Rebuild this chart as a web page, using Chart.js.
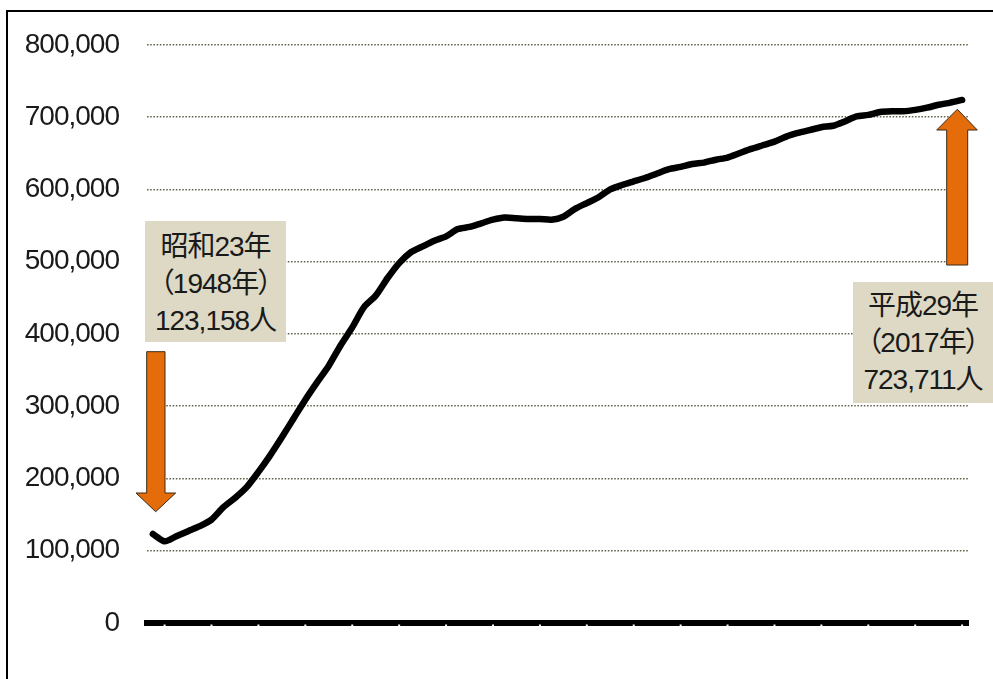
<!DOCTYPE html>
<html>
<head>
<meta charset="utf-8">
<script src="https://cdn.jsdelivr.net/npm/chart.js@4.4.1/dist/chart.umd.min.js"></script>
<style>
  html, body { margin: 0; padding: 0; background: #fff; overflow: hidden; }
  #wrap { position: relative; width: 993px; height: 679px; }
  #frame { position: absolute; left: 6px; top: 10px; width: 1100px; height: 800px;
           border-left: 2.5px solid #000; border-top: 2px solid #000; box-sizing: border-box; }
  canvas { position: absolute; left: 0; top: 0; }
  .note { position: absolute; background: #ddd9c4; color: #1a1a1a; text-align: center; white-space: nowrap;
          font-family: "Liberation Sans", "Noto Sans CJK JP", sans-serif; font-size: 28px; line-height: 37px;
          letter-spacing: -1px; box-sizing: border-box; }
  .note .p { margin: 0 -1px; }
  svg { position: absolute; left: 0; top: 0; }
</style>
</head>
<body>
<div id="wrap">
  <div id="frame"></div>
  <canvas id="popChart" width="993" height="679"></canvas>
  <svg width="993" height="679">
    <polygon points="146.7,351.7 165,351.7 165,493 175.7,493 155.7,511.7 136,493 146.7,493" fill="#e46c0a" stroke="#3b2a18" stroke-width="1"/>
    <polygon points="946.7,265 967.7,265 967.7,130 977.3,130 957.3,109.3 936.7,130 946.7,130" fill="#e46c0a" stroke="#3b2a18" stroke-width="1"/>
  </svg>
  <div class="note" style="left:145px; top:221px; width:141px; height:121px; padding-top:7px;">昭和23年<br><span class="p">（</span>1948年<span class="p">）</span><br>123,158人</div>
  <div class="note" style="left:853px; top:282px; width:140px; height:121px; padding-top:5px;">平成29年<br><span class="p">（</span>2017年<span class="p">）</span><br>723,711人</div>
</div>
<script>
// 年次（1948〜2017）
const years = ['1948','1949','1950','1951','1952','1953','1954','1955','1956','1957',
  '1958','1959','1960','1961','1962','1963','1964','1965','1966','1967',
  '1968','1969','1970','1971','1972','1973','1974','1975','1976','1977',
  '1978','1979','1980','1981','1982','1983','1984','1985','1986','1987',
  '1988','1989','1990','1991','1992','1993','1994','1995','1996','1997',
  '1998','1999','2000','2001','2002','2003','2004','2005','2006','2007',
  '2008','2009','2010','2011','2012','2013','2014','2015','2016','2017'];

// 人口（人）
const population = [123158,113000,120000,127000,134000,143000,160000,173000,188000,209000,
  232000,257000,283000,309000,333000,356000,384000,409000,437000,453000,
  477000,498000,513000,521000,529000,535000,545000,548000,553000,558000,
  561000,560000,559000,559000,558000,562000,573000,581000,589000,600000,
  606000,611000,616000,622000,628000,631000,635000,637000,641000,644000,
  650000,656000,661000,666000,673000,678000,682000,686000,688000,694000,
  701000,703000,707000,708000,708000,710000,713000,717000,720000,723711];

const yTicks = [0,100000,200000,300000,400000,500000,600000,700000,800000];
// 軸上の白い目盛り（4年ごと）
const markYears = ['1949','1953','1957','1961','1965','1969','1973','1977','1981','1985',
  '1989','1993','1997','2001','2005','2009','2013','2017'];

const narrowText = {
  id: 'narrowText',
  beforeDraw(chart) { chart.ctx.letterSpacing = '-1px'; }
};

const tickMarks = {
  id: 'tickMarks',
  afterDraw(chart) {
    const x = chart.scales.x, ctx = chart.ctx, b = chart.chartArea.bottom;
    ctx.save();
    ctx.fillStyle = '#fff';
    markYears.forEach(y => {
      const px = x.getPixelForValue(years.indexOf(y));
      ctx.fillRect(px - 1, b + 1.5, 2, 2);
    });
    ctx.restore();
  }
};

new Chart(document.getElementById('popChart'), {
  type: 'line',
  data: {
    labels: years,
    datasets: [{
      data: population,
      borderColor: '#000',
      borderWidth: 6.5,
      pointRadius: 0,
      tension: 0.25,
      borderCapStyle: 'round',
      borderJoinStyle: 'round',
      fill: false
    }]
  },
  options: {
    responsive: false,
    animation: false,
    layout: { padding: { left: 0, right: 25, top: 43, bottom: 56 } },
    plugins: { legend: { display: false }, tooltip: { enabled: false } },
    scales: {
      x: {
        offset: true,
        grid: { display: false, drawTicks: false },
        ticks: { display: false },
        border: { display: true, color: '#000', width: 6 },
        afterFit(s) { s.height = 0; }
      },
      y: {
        min: 0, max: 800000,
        afterBuildTicks(s) { s.ticks = yTicks.map(v => ({ value: v })); },
        afterFit(s) { s.width = 147; },
        grid: { color: '#6b6650', lineWidth: 1.4, drawTicks: false },
        border: { display: false, dash: [1.6, 1.6] },
        ticks: {
          padding: 28,
          color: '#1a1a1a',
          font: { family: '"Liberation Sans", sans-serif', size: 28 },
          callback: v => v.toLocaleString('en-US')
        }
      }
    }
  },
  plugins: [narrowText, tickMarks]
});
</script>
</body>
</html>
